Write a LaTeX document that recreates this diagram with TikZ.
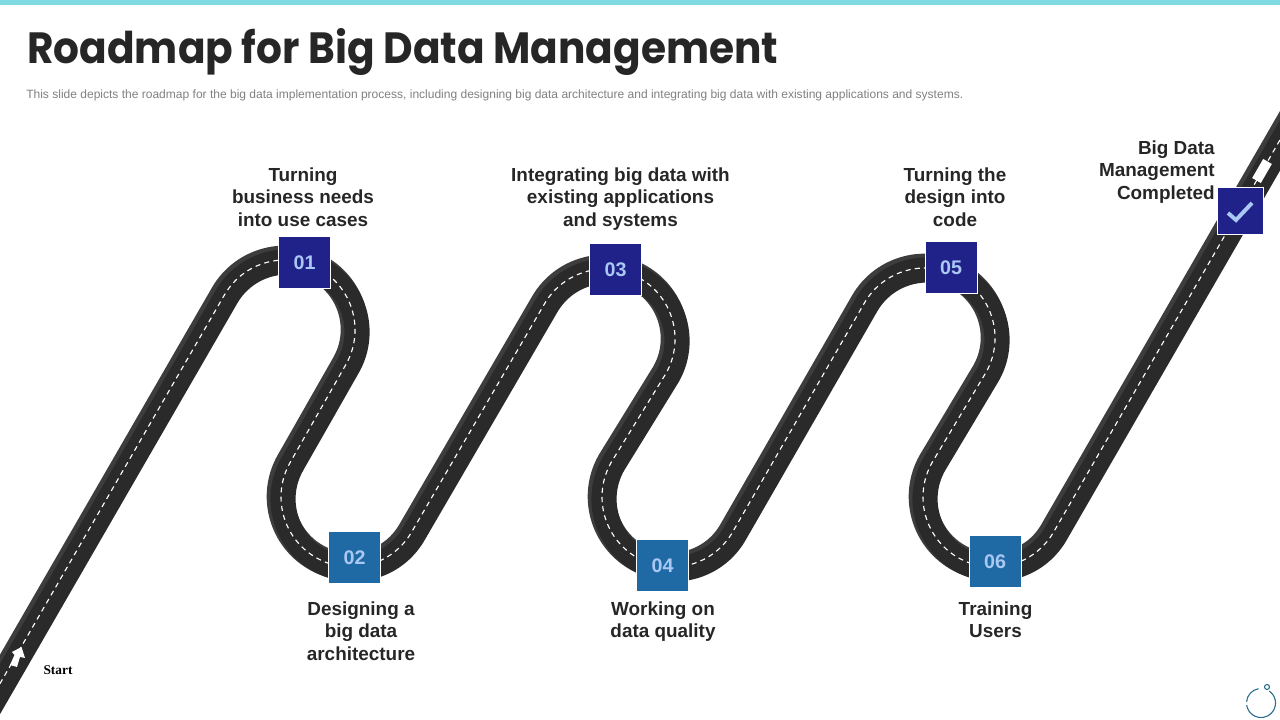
\documentclass[tikz,border=0pt]{standalone}
\usepackage{fontspec}
\setmainfont{Liberation Sans}
\newfontfamily\titlefont[FakeStretch=0.93]{Poppins}
\newfontfamily\startfont{Liberation Serif}
\definecolor{barteal}{HTML}{7FDBE1}
\definecolor{roaddark}{HTML}{2A2A2A}
\definecolor{roadlight}{HTML}{3D3D3D}
\definecolor{navybox}{HTML}{21218A}
\definecolor{bluebox}{HTML}{1F6AA5}
\definecolor{numblue}{HTML}{A9C8F2}
\definecolor{inktext}{HTML}{262626}
\definecolor{icontone}{HTML}{2F6F8F}
% 道路中心線(單位為像素)
\newcommand{\roadline}{
    (-32.6,-20) -- (224.4,425) arc[start angle=150,end angle=-30,radius=70]
    -- (290.4,258) arc[start angle=150,end angle=330,radius=70]
    -- (544.4,416) arc[start angle=150,end angle=-30,radius=70]
    -- (611.4,258) arc[start angle=150,end angle=330,radius=70]
    -- (864.4,417) arc[start angle=150,end angle=-30,radius=70]
    -- (932.4,258) arc[start angle=150,end angle=330,radius=70]
    -- (1314.6,640)
}
\begin{document}
\begin{tikzpicture}[
        x=0.025cm, y=0.025cm,
        % 道路樣式
        road_base/.style={
            draw=roadlight,
            line width=19.8pt,
            shift={(-0.4,0.4)}
        },
        road_top/.style={
            draw=roaddark,
            line width=17.9pt,
            shift={(2,-2)}
        },
        road_dash/.style={
            draw=white,
            line width=0.8pt,
            dash pattern=on 3.6pt off 3pt
        },
        % 方塊樣式
        step_box/.style={
            draw=white,
            line width=0.7pt,
            minimum size=1.3cm,
            inner sep=0pt,
            text=numblue,
            font=\fontsize{14}{16}\selectfont\bfseries
        },
        % 文字標籤樣式
        step_label/.style={
            text=inktext,
            align=center,
            inner sep=0pt,
            font=\fontsize{13.45}{15.95}\selectfont\bfseries
        }
    ]
    \useasboundingbox (0,0) rectangle (1280,720);

    % --- 頂部與標題 ---
    \fill[barteal] (0,715) rectangle (1280,720);
    \node[anchor=west, inner sep=0pt, text=inktext, font=\titlefont\fontsize{31.1}{36}\selectfont\bfseries]
        (title) at (27,668) {Roadmap for Big Data Management};
    \node[anchor=west, inner sep=0pt, text=black!50, font=\fontsize{8.55}{10}\selectfont]
        (subtitle) at (26,624.5) {This slide depicts the roadmap for the big data implementation process, including designing big data architecture and integrating big data with existing applications and systems.};

    % --- 道路 ---
    \begin{scope}
        \clip (0,0) rectangle (1280,720);
        \draw[road_base] \roadline;
        \draw[road_top] \roadline;
        \draw[road_dash] \roadline;
        % 起點箭頭與終點標記
        \fill[white] (21.5,73) -- (12,68) -- (14.5,65) -- (10,55) -- (17,53) -- (20,63) -- (25,62) -- cycle;
        \fill[white, rotate around={60:(1262,549)}] (1251,544) rectangle (1273,554);
    \end{scope}

    % --- 方塊 ---
    \node[step_box, fill=navybox] (box_01) at (304.5,457.5) {01};
    \node[step_box, fill=bluebox] (box_02) at (354.5,162.5) {02};
    \node[step_box, fill=navybox] (box_03) at (615.5,450.5) {03};
    \node[step_box, fill=bluebox] (box_04) at (662.5,154.5) {04};
    \node[step_box, fill=navybox] (box_05) at (951,452.5) {05};
    \node[step_box, fill=bluebox] (box_06) at (995,158.5) {06};
    \node[step_box, fill=navybox, minimum size=1.15cm] (box_check) at (1240.5,509) {};
    \draw[numblue, line width=2.8pt] (1228,507) -- (1236,500) -- (1252,517);

    % --- 文字標籤 ---
    \node[step_label] (label_01) at (303,523) {Turning\\business needs\\into use cases};
    \node[step_label] (label_02) at (361,89) {Designing a\\big data\\architecture};
    \node[step_label] (label_03) at (620.5,521) {Integrating big data with\\existing applications\\and systems};
    \node[step_label] (label_04) at (663,98.5) {Working on\\data quality};
    \node[step_label] (label_05) at (955,523) {Turning the\\design into\\code};
    \node[step_label] (label_06) at (995.5,100) {Training\\Users};
    \node[step_label, anchor=east, align=right] (label_end) at (1215,548) {Big Data\\Management\\Completed};
    \node[inner sep=0pt, text=black, font=\startfont\fontsize{9.5}{11}\selectfont\bfseries] (label_start) at (58,50) {Start};

    % --- 角落圖示 ---
    \draw[icontone, line width=0.8pt] (1261,17) ++(175:14.5) arc[start angle=175,end angle=100,radius=14.5];
    \draw[icontone, line width=0.8pt] (1261,17) ++(55:14.5) arc[start angle=55,end angle=-172,radius=14.5];
    \draw[icontone, line width=0.8pt] (1267,33) circle[radius=2.5];
\end{tikzpicture}
\end{document}
